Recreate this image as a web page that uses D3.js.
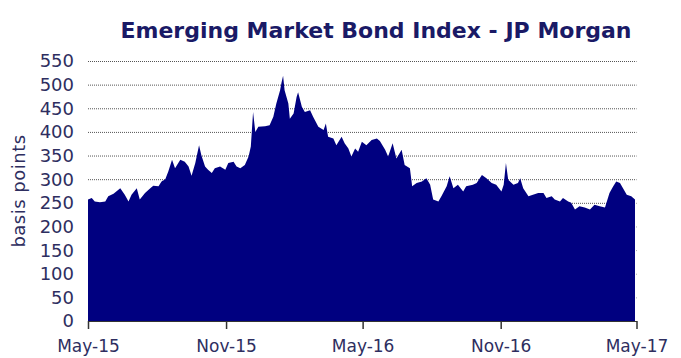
<!DOCTYPE html>
<html>
<head>
<meta charset="utf-8">
<script src="https://cdn.jsdelivr.net/npm/d3@7"></script>
<style>
  body { margin: 0; background: #fff; }
  svg { display: block; }
</style>
</head>
<body>
<svg id="chart" width="681" height="358"></svg>
<script>
// EMBI spread, basis points
const dates = [
  "2015-05-01","2015-05-06","2015-05-10","2015-05-17","2015-05-24","2015-05-28",
  "2015-06-04","2015-06-13","2015-06-19","2015-06-24","2015-06-28",
  "2015-07-05","2015-07-09","2015-07-16","2015-07-23","2015-07-27",
  "2015-08-03","2015-08-07","2015-08-12","2015-08-16","2015-08-21","2015-08-25",
  "2015-09-01","2015-09-07","2015-09-12","2015-09-16","2015-09-21","2015-09-26","2015-09-29",
  "2015-10-04","2015-10-08","2015-10-13","2015-10-17","2015-10-24","2015-10-31",
  "2015-11-04","2015-11-11","2015-11-15","2015-11-20","2015-11-26",
  "2015-12-01","2015-12-04","2015-12-07","2015-12-10","2015-12-14","2015-12-23","2015-12-29",
  "2016-01-03","2016-01-07","2016-01-12","2016-01-14","2016-01-16","2016-01-18","2016-01-23","2016-01-25","2016-01-30",
  "2016-02-03","2016-02-05","2016-02-10","2016-02-14","2016-02-21","2016-02-25",
  "2016-03-03","2016-03-10","2016-03-13","2016-03-16","2016-03-23","2016-03-27",
  "2016-04-03","2016-04-07","2016-04-12","2016-04-16","2016-04-21","2016-04-25","2016-04-30",
  "2016-05-06","2016-05-13","2016-05-20","2016-05-24","2016-05-31",
  "2016-06-04","2016-06-10","2016-06-15","2016-06-22","2016-06-26",
  "2016-07-03","2016-07-06","2016-07-12","2016-07-19","2016-07-25","2016-07-30",
  "2016-08-03","2016-08-10","2016-08-14","2016-08-21","2016-08-25","2016-08-30",
  "2016-09-05","2016-09-12","2016-09-16","2016-09-25","2016-09-30",
  "2016-10-07","2016-10-13","2016-10-20","2016-10-26",
  "2016-11-02","2016-11-05","2016-11-08","2016-11-11","2016-11-18","2016-11-24","2016-11-27",
  "2016-12-01","2016-12-08","2016-12-14","2016-12-21","2016-12-28",
  "2017-01-01","2017-01-08","2017-01-12","2017-01-19","2017-01-23","2017-01-30",
  "2017-02-03","2017-02-08","2017-02-14","2017-02-21","2017-02-28",
  "2017-03-06","2017-03-13","2017-03-20","2017-03-26","2017-03-31",
  "2017-04-04","2017-04-09","2017-04-13","2017-04-18","2017-04-24","2017-04-29"
];
const spreads = [
  257,260,253,251,253,264,
  269,281,267,253,267,
  281,257,271,281,286,
  285,295,300,316,341,323,
  341,337,327,307,334,372,351,
  327,320,313,323,327,320,
  334,337,327,323,330,
  348,369,442,400,411,412,414,
  432,460,488,505,519,488,460,428,439,
  474,484,453,442,446,432,
  411,404,418,390,386,372,
  390,376,365,348,365,358,379,
  372,383,386,381,362,
  348,376,344,362,330,
  323,285,292,295,302,288,
  257,253,264,285,306,281,
  288,274,285,288,292,
  309,302,292,288,
  274,288,334,299,288,292,302,
  281,264,267,271,271,
  260,264,257,253,260,253,
  250,236,243,240,236,
  246,243,240,271,285,
  295,292,281,267,264,257
];
const yTicks = [0,50,100,150,200,250,300,350,400,450,500,550];
const xTicks = ["2015-05-01","2015-11-01","2016-05-01","2016-11-01","2017-05-01"];

const parse = d3.timeParse("%Y-%m-%d");
const data = dates.map((d, i) => ({date: parse(d), v: spreads[i]}));

const svg = d3.select("#chart");
const plotLeft = 88, plotRight = 636.5, plotTop = 61, plotBottom = 321;

const x = d3.scaleTime()
  .domain([parse(xTicks[0]), parse(xTicks[xTicks.length - 1])])
  .range([plotLeft, plotRight]);
const y = d3.scaleLinear().domain([0, 550]).range([plotBottom, plotTop]);

const textColor = "#2e2e60";
const font = "DejaVu Sans, Verdana, sans-serif";

// dotted gridlines behind the area
svg.append("g")
  .selectAll("line")
  .data(yTicks.filter(t => t > 0))
  .join("line")
    .attr("x1", plotLeft).attr("x2", plotRight)
    .attr("y1", d => y(d) + 0.5).attr("y2", d => y(d) + 0.5)
    .attr("stroke", "#555")
    .attr("stroke-width", 1)
    .attr("stroke-dasharray", "1,1");

const area = d3.area()
  .x(d => x(d.date))
  .y0(y(0))
  .y1(d => y(d.v));

svg.append("path")
  .datum(data)
  .attr("fill", "#000080")
  .attr("d", area);

// y tick labels
svg.append("g")
  .selectAll("text")
  .data(yTicks)
  .join("text")
    .attr("x", 74)
    .attr("y", d => y(d))
    .attr("dy", "0.36em")
    .attr("text-anchor", "end")
    .attr("font-family", font)
    .attr("font-size", 18)
    .attr("fill", textColor)
    .text(d => d);

// x axis
const fmt = d3.timeFormat("%b-%y");
const xAxis = d3.axisBottom(x)
  .tickValues(xTicks.map(parse))
  .tickFormat(fmt)
  .tickSizeInner(8)
  .tickSizeOuter(0)
  .tickPadding(11);

const gx = svg.append("g")
  .attr("transform", `translate(0,${plotBottom})`)
  .call(xAxis);
gx.select(".domain").attr("stroke", "#333").attr("stroke-width", 1.2);
gx.selectAll(".tick line").attr("stroke", "#333").attr("stroke-width", 1.5);
gx.selectAll(".tick text")
  .attr("font-family", font)
  .attr("font-size", 17)
  .attr("fill", textColor);

// axis title
svg.append("text")
  .attr("transform", "translate(25,191) rotate(-90)")
  .attr("text-anchor", "middle")
  .attr("font-family", font)
  .attr("font-size", 18)
  .attr("letter-spacing", 0.5)
  .attr("fill", textColor)
  .text("basis points");

// title
svg.append("text")
  .attr("x", 376)
  .attr("y", 38)
  .attr("text-anchor", "middle")
  .attr("font-family", font)
  .attr("font-weight", "bold")
  .attr("font-size", 22)
  .attr("fill", "#1a1a66")
  .text("Emerging Market Bond Index - JP Morgan");
</script>
</body>
</html>
